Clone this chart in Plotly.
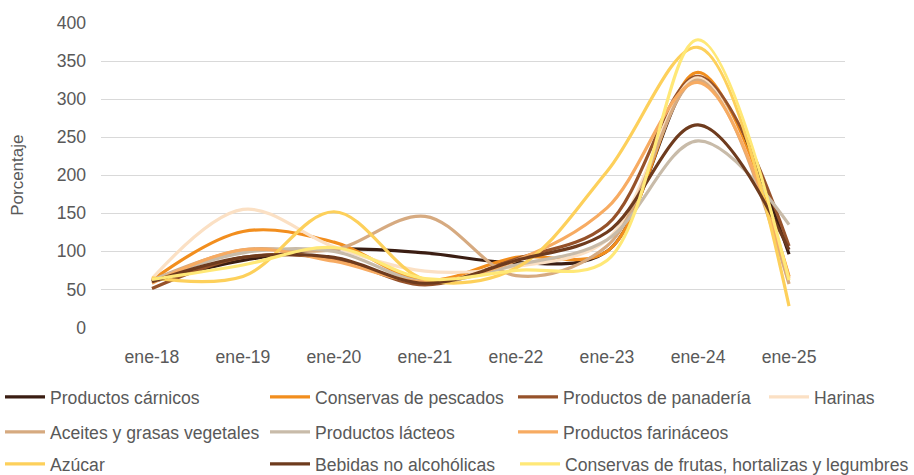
import plotly.graph_objects as go

categories = ["ene-18", "ene-19", "ene-20", "ene-21", "ene-22", "ene-23", "ene-24", "ene-25"]

carnicos = [60, 88, 103, 98, 85, 100, 328, 96]
pescados = [62, 126, 112, 62, 92, 100, 335, 67]
panaderia = [51, 92, 90, 56, 90, 135, 330, 107]
harinas = [64, 155, 106, 74, 80, 115, 328, 58]
aceites = [62, 102, 102, 146, 68, 107, 325, 57]
lacteos = [62, 98, 100, 60, 82, 115, 245, 135]
farinaceos = [58, 102, 87, 60, 88, 157, 322, 65]
azucar = [65, 67, 152, 63, 78, 205, 368, 28]
bebidas = [60, 92, 92, 58, 88, 125, 266, 102]
frutas = [63, 82, 105, 64, 75, 88, 378, 62]

names = ["Productos cárnicos", "Conservas de pescados", "Productos de panadería", "Harinas",
         "Aceites y grasas vegetales", "Productos lácteos", "Productos farináceos",
         "Azúcar", "Bebidas no alcohólicas", "Conservas de frutas, hortalizas y legumbres"]
series = [carnicos, pescados, panaderia, harinas, aceites, lacteos, farinaceos, azucar, bebidas, frutas]
colors = ["#3a1d12", "#f28e1e", "#96522a", "#fbe0c4", "#d6aa80", "#c8bba9", "#f7ab62",
          "#fdd05b", "#6e3b1e", "#ffe877"]

FONT = "Liberation Sans, Arial, Helvetica, sans-serif"
FS = 17.6
TXT = "#595959"
W, H = 914, 475

# legend positions (px): line start x, row centre y
leg_pos = [(7, 397), (273, 397), (521, 397), (772, 397),
           (7, 432), (273, 432), (521, 432),
           (7, 464), (273, 464), (523, 464)]

fig = go.Figure()
layout_legends = {}
for i, (nm, vals, col) in enumerate(zip(names, series, colors)):
    lk = "legend" if i == 0 else f"legend{i+1}"
    fig.add_trace(go.Scatter(
        x=categories, y=vals, name=nm, mode="lines",
        line=dict(color=col, width=3.2, shape="spline", smoothing=1.0),
        legend=lk, hoverinfo="x+y+name"))
    px, py = leg_pos[i]
    layout_legends[lk] = dict(
        xref="container", yref="container",
        x=(px - 8) / W, y=1 - py / H, xanchor="left", yanchor="middle",
        orientation="h", bgcolor="rgba(0,0,0,0)", borderwidth=0,
        font=dict(family=FONT, size=FS, color=TXT), itemwidth=40)

fig.update_layout(
    width=W, height=H,
    margin=dict(l=101, r=69, t=23, b=146),
    paper_bgcolor="white", plot_bgcolor="white",
    font=dict(family=FONT, size=FS, color=TXT),
    xaxis=dict(type="category", range=[-0.56, 7.615], showgrid=False, showline=False,
               zeroline=False, ticks="", tickfont=dict(family=FONT, size=FS, color=TXT),
               ticklabelstandoff=17),
    yaxis=dict(range=[0, 400], tickvals=[0, 50, 100, 150, 200, 250, 300, 350, 400],
               showgrid=True, gridcolor="#d9d9d9", gridwidth=1.3, zeroline=False,
               showline=False, ticks="", tickfont=dict(family=FONT, size=FS, color=TXT),
               ticklabelstandoff=14,
               title=dict(text="Porcentaje", font=dict(family=FONT, size=17, color=TXT), standoff=28)),
    showlegend=True,
    **layout_legends,
)

fig.write_html("out.html", config={"displayModeBar": False},
               post_script="document.body.style.margin='0';document.body.style.padding='0';")
